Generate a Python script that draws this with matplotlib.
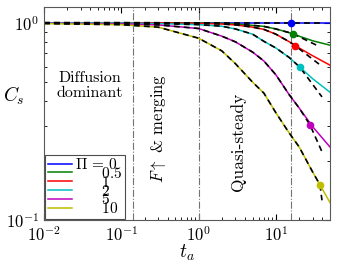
import matplotlib
matplotlib.use("Agg")
import matplotlib.pyplot as plt

plt.rcParams["mathtext.fontset"] = "cm"
plt.rcParams["font.family"] = "serif"
plt.rcParams["font.serif"] = ["cmr10", "DejaVu Serif"]
plt.rcParams["axes.formatter.use_mathtext"] = True

# values
pi_labels = ["0", "0.5", "1", "2", "5", "10"]
colors = ["b", "g", "r", "c", "m", "y"]

t = [0.01, 0.1, 0.3, 1, 2, 3, 5, 7, 10, 15, 20, 30, 50]
cs_0 = [1.0] * 13
cs_05 = [1.0, 1.0, 1.0, 0.997, 0.993, 0.985, 0.97, 0.958, 0.93, 0.89, 0.855, 0.81, 0.77]
cs_1 = [1.0, 1.0, 0.999, 0.993, 0.985, 0.975, 0.95, 0.925, 0.875, 0.80, 0.745, 0.68, 0.61]
cs_2 = [1.0, 0.997, 0.99, 0.978, 0.96, 0.93, 0.875, 0.805, 0.745, 0.665, 0.60, 0.52, 0.445]
cs_5 = [0.995, 0.987, 0.975, 0.935, 0.855, 0.80, 0.71, 0.64, 0.545, 0.43, 0.37, 0.297, 0.235]
cs_10 = [0.99, 0.977, 0.95, 0.835, 0.72, 0.62, 0.50, 0.44, 0.35, 0.275, 0.235, 0.175, 0.123]
curves = [cs_0, cs_05, cs_1, cs_2, cs_5, cs_10]

# transition markers
t_mark = [15.7, 16.6, 17.7, 20.5, 27.6, 37.2]
cs_mark = [1.0, 0.88, 0.766, 0.594, 0.304, 0.151]

# end of the dashed approximation beyond each marker
t_end = [39.5, 37.2, 37.2, 39.5, 39.5, 39.5]
cs_end = [1.0, 0.755, 0.612, 0.421, 0.222, 0.126]

t_regimes = [0.14, 1.0, 15.7]

fig = plt.figure(figsize=(3.38, 2.63), dpi=100)
ax = fig.add_axes([0.130, 0.163, 0.846, 0.810])

for tx in t_regimes:
    ax.axvline(tx, color="0.45", linestyle="-.", linewidth=0.8)

handles = []
for i, cs in enumerate(curves):
    (h,) = ax.plot(t, cs, color=colors[i], linewidth=1.1)
    handles.append(h)

for i, cs in enumerate(curves):
    td = [tt for tt in t if tt < t_mark[i]] + [t_mark[i], t_end[i]]
    cd = [c for tt, c in zip(t, cs) if tt < t_mark[i]] + [cs_mark[i], cs_end[i]]
    ax.plot(td, cd, color="k", linestyle=(0, (3.5, 2.5)), linewidth=1.2)
    ax.plot(t_mark[i], cs_mark[i], "o", color=colors[i], markersize=4.5)

ax.set_xscale("log")
ax.set_yscale("log")
ax.set_xlim(0.01, 50)
ax.set_ylim(0.1, 1.2)
ax.set_xticks([0.01, 0.1, 1, 10])
ax.set_yticks([0.1, 1])
ax.tick_params(which="both", direction="in", top=True, right=True, labelsize=12)
ax.tick_params(which="major", length=4)
ax.tick_params(which="minor", length=2)
for s in ax.spines.values():
    s.set_color("0.35")

ax.set_xlabel("$t_a$", fontsize=14, labelpad=-1)
ax.set_ylabel("$C_s$", fontsize=14, rotation=0)
ax.yaxis.set_label_coords(-0.105, 0.53)

ax.text(0.039, 0.48, "Diffusion\ndominant", fontsize=11.5, ha="center", va="center",
        linespacing=1.15)
ax.text(0.3, 0.29, r"$F\uparrow$ & merging", fontsize=12, rotation=90,
        ha="center", va="center")
ax.text(3.2, 0.25, "Quasi-steady", fontsize=12.5, rotation=90,
        ha="center", va="center")

labels = [r"$\Pi\,=\,0$"] + [r"$\qquad" + p + "$" for p in pi_labels[1:]]
leg = ax.legend(handles, labels, loc="lower left", fontsize=11, handlelength=1.6,
                labelspacing=-0.4, borderpad=0.15, handletextpad=0.2,
                borderaxespad=0.1, fancybox=False, framealpha=1)
leg.get_frame().set_edgecolor("0.3")
leg.get_frame().set_linewidth(0.8)

fig.savefig("out.png", dpi=100)
